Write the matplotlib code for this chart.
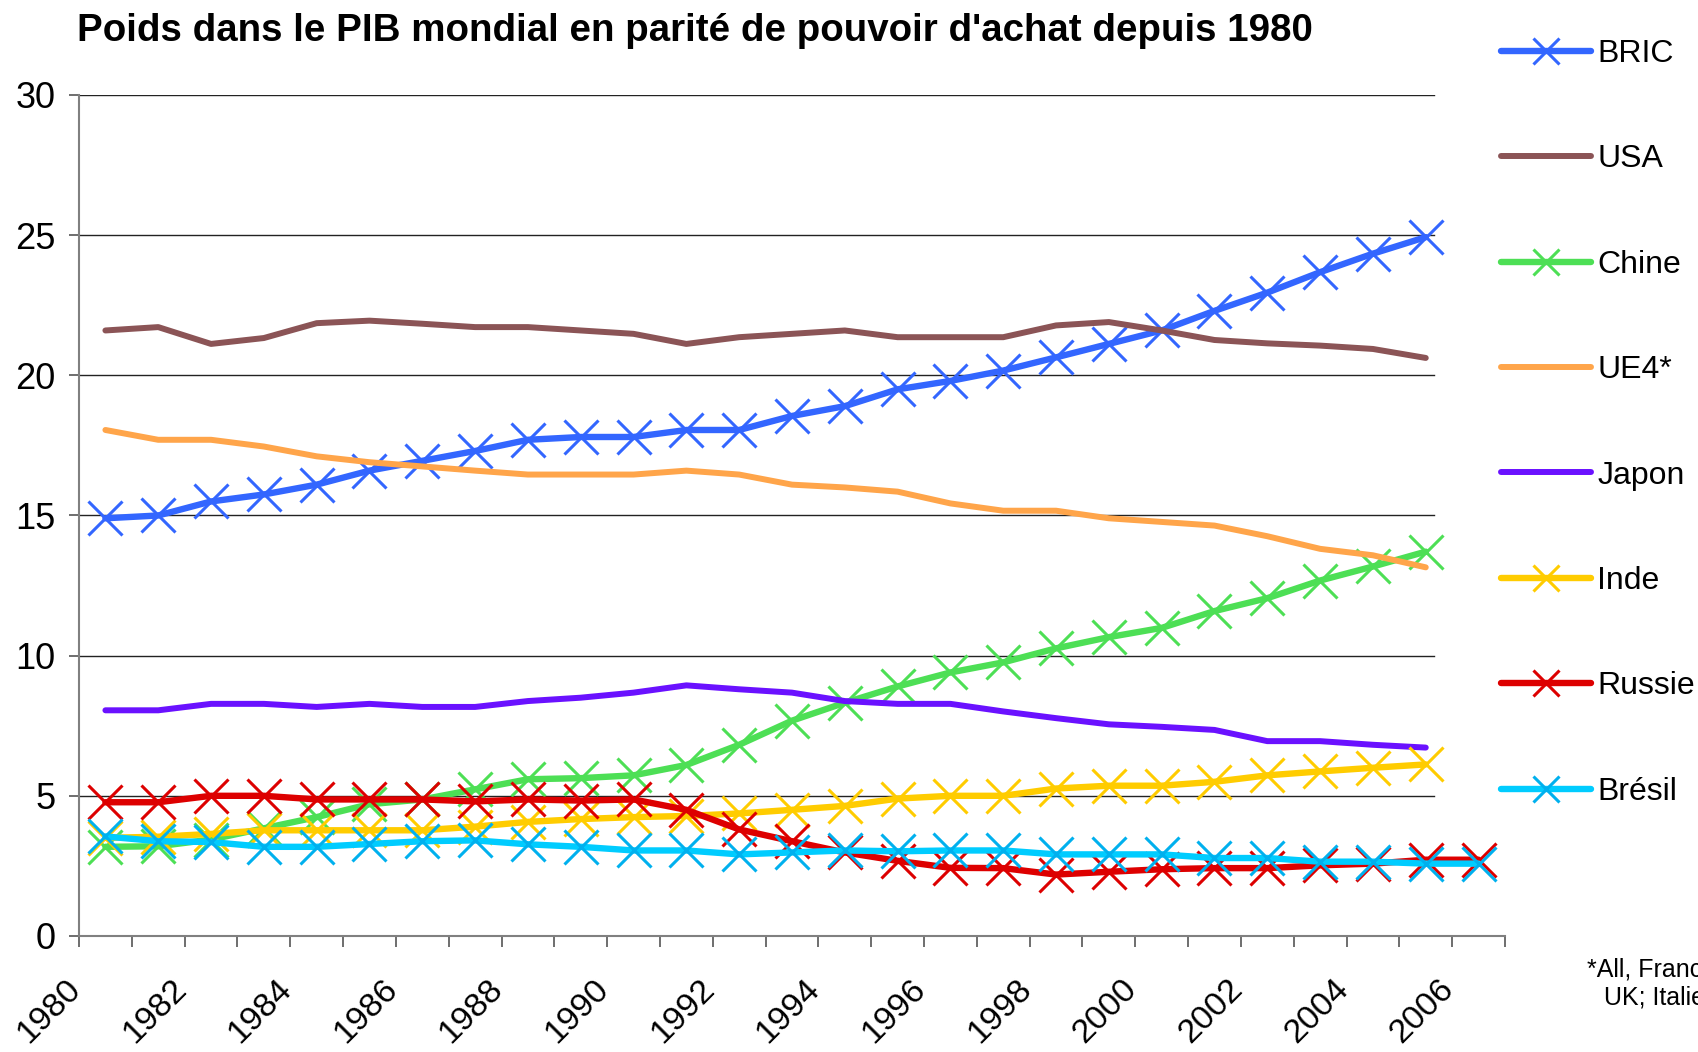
import numpy as np
import matplotlib
matplotlib.use("Agg")
import matplotlib.pyplot as plt
from matplotlib.transforms import ScaledTranslation

plt.rcParams['font.family'] = ['Liberation Sans', 'DejaVu Sans']

# Données (part du PIB mondial en PPA, %)
years = list(range(1980, 2007))
bric = [14.9, 15.0, 15.5, 15.75, 16.1, 16.6, 16.95, 17.3, 17.7, 17.8, 17.8, 18.05, 18.05,
        18.55, 18.9, 19.5, 19.8, 20.17, 20.64, 21.12, 21.6, 22.3, 22.95, 23.68, 24.34, 24.93]
usa = [21.6, 21.72, 21.12, 21.33, 21.86, 21.95, 21.84, 21.72, 21.72, 21.6, 21.48, 21.12, 21.36,
       21.48, 21.6, 21.36, 21.36, 21.36, 21.78, 21.9, 21.6, 21.26, 21.14, 21.06, 20.94, 20.62]
chine = [3.18, 3.2, 3.44, 3.84, 4.24, 4.7, 4.87, 5.23, 5.59, 5.63, 5.73, 6.1, 6.82,
         7.68, 8.32, 8.9, 9.4, 9.76, 10.26, 10.66, 10.99, 11.59, 12.05, 12.68, 13.18, 13.71]
ue4 = [18.05, 17.7, 17.7, 17.46, 17.11, 16.9, 16.75, 16.6, 16.46, 16.46, 16.46, 16.6, 16.46,
       16.1, 16.0, 15.85, 15.43, 15.17, 15.17, 14.9, 14.77, 14.64, 14.26, 13.81, 13.58, 13.15]
japon = [8.05, 8.05, 8.28, 8.28, 8.17, 8.28, 8.17, 8.17, 8.38, 8.5, 8.68, 8.94, 8.8,
         8.68, 8.38, 8.28, 8.28, 8.01, 7.77, 7.55, 7.46, 7.35, 6.95, 6.95, 6.82, 6.72]
inde = [3.5, 3.54, 3.64, 3.77, 3.77, 3.77, 3.77, 3.9, 4.07, 4.17, 4.24, 4.28, 4.37,
        4.5, 4.64, 4.9, 5.0, 5.0, 5.26, 5.36, 5.36, 5.5, 5.73, 5.87, 6.0, 6.12]
russie = [4.77, 4.77, 5.0, 5.0, 4.87, 4.87, 4.87, 4.8, 4.87, 4.83, 4.87, 4.5, 3.8,
          3.38, 2.98, 2.68, 2.43, 2.42, 2.19, 2.29, 2.38, 2.42, 2.42, 2.52, 2.58, 2.72, 2.72]
bresil = [3.55, 3.38, 3.35, 3.18, 3.18, 3.28, 3.38, 3.41, 3.27, 3.18, 3.05, 3.05, 2.91,
          2.98, 3.05, 3.02, 3.05, 3.05, 2.91, 2.91, 2.91, 2.78, 2.78, 2.65, 2.65, 2.58, 2.58]

series = [
    ("BRIC", bric, "#3366ff", "#3366ff", True),
    ("USA", usa, "#8b5456", None, False),
    ("Chine", chine, "#4ddf55", "#4ddf55", True),
    ("UE4*", ue4, "#ffa54a", None, False),
    ("Japon", japon, "#6a11ff", None, False),
    ("Inde", inde, "#ffcc00", "#ffcc00", True),
    ("Russie", russie, "#dd0000", "#dd0000", True),
    ("Brésil", bresil, "#00ccff", "#00b0ee", True),
]

fig = plt.figure(figsize=(16.99, 10.52), dpi=100)
ax = fig.add_axes([0.0465, 0.1103, 0.8393, 0.7994])

for name, vals, col, mcol, mark in series:
    x = np.arange(len(vals)) + 0.5
    if mark:
        ax.plot(x, vals, color=col, lw=4.6, marker='x', markersize=25,
                markeredgewidth=2.2, markeredgecolor=mcol, label=name,
                solid_capstyle='round', solid_joinstyle='round')
    else:
        ax.plot(x, vals, color=col, lw=4.3, label=name,
                solid_capstyle='round', solid_joinstyle='round')

ax.set_xlim(0, len(years))
ax.set_ylim(0, 30)
ax.set_yticks([0, 5, 10, 15, 20, 25, 30])
for y in [5, 10, 15, 20, 25, 30]:
    ax.axhline(y, xmin=0, xmax=0.95, color='#222222', lw=1.0, zorder=0)

ax.set_xticks(np.arange(len(years) + 1))
ax.set_xticklabels([str(y) if (y - 1980) % 2 == 0 else '' for y in years] + [''],
                   rotation=45, ha='right', va='top', rotation_mode='anchor')
ax.tick_params(axis='x', length=8, width=1.2, color='#555555', labelsize=24.5, pad=19,
               direction='out')
ax.tick_params(axis='y', length=7, width=1.2, color='#555555', labelsize=26, pad=10)
shift = ScaledTranslation(-0.14, 0, fig.dpi_scale_trans)
for lab in ax.get_xticklabels():
    lab.set_transform(lab.get_transform() + shift)

for s in ['top', 'right']:
    ax.spines[s].set_visible(False)
for s in ['left', 'bottom']:
    ax.spines[s].set_color('#808080')
    ax.spines[s].set_linewidth(1.5)

fig.text(0.0455, 0.961, "Poids dans le PIB mondial en parité de pouvoir d'achat depuis 1980",
         fontsize=27.7, fontweight='bold', ha='left', va='baseline')

handles, labels = ax.get_legend_handles_labels()
fig.legend(handles, labels, loc='upper left', bbox_to_anchor=(0.8758, 0.975),
           frameon=False, fontsize=23, handlelength=2.82, handletextpad=0.2,
           labelspacing=2.36, markerscale=0.75, borderaxespad=0)

fig.text(0.934, 0.065, "*All, France,\nUK; Italie", fontsize=18, ha='left', va='center',
         multialignment='center', linespacing=1.25)

fig.savefig("out.png", dpi=100)
